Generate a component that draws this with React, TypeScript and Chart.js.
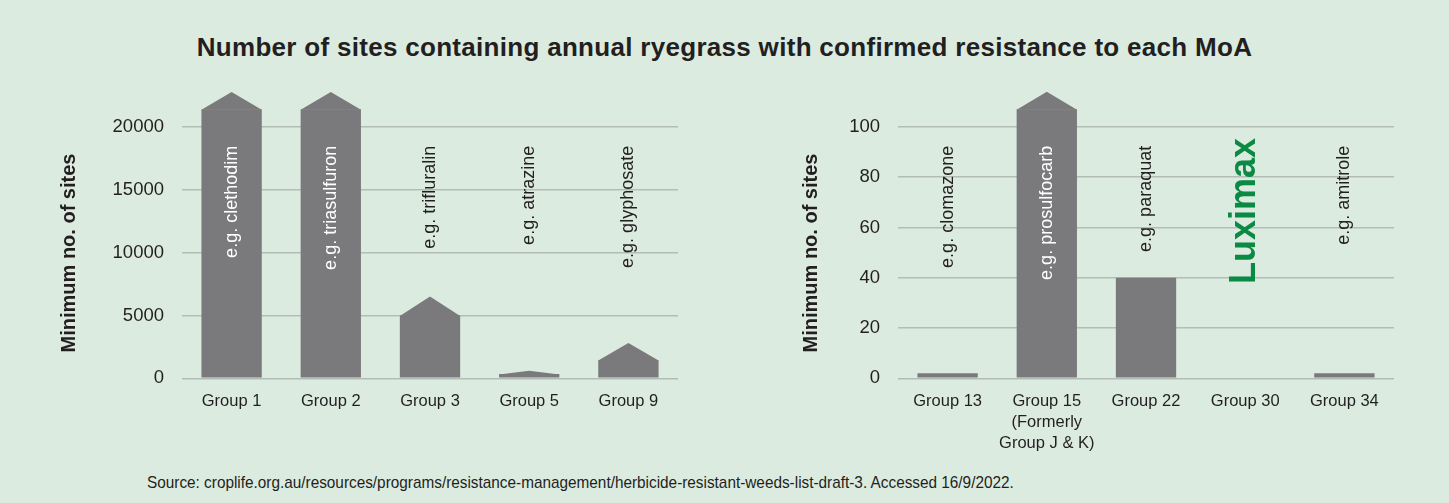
import React, { useEffect, useRef } from 'react';
import { Chart, registerables } from 'chart.js';

Chart.register(...registerables);

// ---------- data ----------
const leftCategories = ['Group 1', 'Group 2', 'Group 3', 'Group 5', 'Group 9'];
const leftBodyValues = [21400, 21400, 5000, 350, 1450];
const leftTipValues = [22780, 22780, 6500, 600, 2800];
const leftNotes = ['e.g. clethodim', 'e.g. triasulfuron', 'e.g. trifluralin', 'e.g. atrazine', 'e.g. glyphosate'];
const leftTickValues = [0, 5000, 10000, 15000, 20000];

const rightCategories = ['Group 13', ['Group 15', '(Formerly', 'Group J & K)'], 'Group 22', 'Group 30', 'Group 34'];
const rightBodyValues = [2, 107, 40, 0, 2];
const rightTipValues = [2, 114, 40, 0, 2];
const rightNotes = ['e.g. clomazone', 'e.g. prosulfocarb', 'e.g. paraquat', 'Luximax', 'e.g. amitrole'];
const rightTickValues = [0, 20, 40, 60, 80, 100];

const titleText = 'Number of sites containing annual ryegrass with confirmed resistance to each MoA';
const yAxisTitle = 'Minimum no. of sites';
const sourceText = 'Source: croplife.org.au/resources/programs/resistance-management/herbicide-resistant-weeds-list-draft-3. Accessed 16/9/2022.';
const highlightNote = 'Luximax';

// ---------- styles ----------
const BG = '#dcebe0';
const BAR = '#7a7a7c';
const TEXT = '#231f20';
const GRID = '#b3bcb6';
const GREEN = '#0b8a43';
const SANS = '"Liberation Sans", Arial, sans-serif';

const arrowTipsPlugin = {
  id: 'arrowTips',
  afterDatasetsDraw(chart: any, _args: any, opts: any) {
    const meta = chart.getDatasetMeta(0);
    const y = chart.scales.y;
    const ctx = chart.ctx;
    ctx.save();
    ctx.fillStyle = BAR;
    (opts.tips as number[]).forEach((tip, i) => {
      const body = opts.body[i];
      if (!(tip > body)) return;
      const bar = meta.data[i];
      const half = bar.width / 2;
      const yb = y.getPixelForValue(body);
      const yt = y.getPixelForValue(tip);
      ctx.beginPath();
      ctx.moveTo(bar.x - half, yb + 0.5);
      ctx.lineTo(bar.x, yt);
      ctx.lineTo(bar.x + half, yb + 0.5);
      ctx.closePath();
      ctx.fill();
    });
    ctx.restore();
  },
};

const notesPlugin = {
  id: 'notes',
  afterDatasetsDraw(chart: any, _args: any, opts: any) {
    const meta = chart.getDatasetMeta(0);
    const y = chart.scales.y;
    const ctx = chart.ctx;
    ctx.save();
    (opts.notes as string[]).forEach((note, i) => {
      const bar = meta.data[i];
      const isHighlight = note === highlightNote;
      const endY = y.getPixelForValue(isHighlight ? opts.highlightAnchor : opts.anchor);
      ctx.font = isHighlight ? `bold 36px ${SANS}` : `18px ${SANS}`;
      const w = ctx.measureText(note).width;
      const startY = endY + w;
      const bodyTop = y.getPixelForValue(opts.body[i]);
      let color = TEXT;
      if (isHighlight) color = GREEN;
      else if (bodyTop < startY) color = '#ffffff';
      ctx.fillStyle = color;
      ctx.translate(bar.x, endY);
      ctx.rotate(-Math.PI / 2);
      ctx.textAlign = 'right';
      ctx.textBaseline = 'middle';
      ctx.fillText(note, 0, 0);
      ctx.setTransform(1, 0, 0, 1, 0, 0);
    });
    ctx.restore();
  },
};

const yTitlePlugin = {
  id: 'yTitle',
  afterDraw(chart: any, _args: any, opts: any) {
    const ctx = chart.ctx;
    const area = chart.chartArea;
    ctx.save();
    ctx.font = `bold 20px ${SANS}`;
    ctx.fillStyle = TEXT;
    ctx.translate(area.left - opts.offsetX, (area.top + area.bottom) / 2 + opts.shiftY);
    ctx.rotate(-Math.PI / 2);
    ctx.textAlign = 'center';
    ctx.textBaseline = 'middle';
    ctx.fillText(opts.text, 0, 0);
    ctx.restore();
  },
};

type PanelProps = {
  categories: any[];
  body: number[];
  tips: number[];
  notes: string[];
  tickValues: number[];
  max: number;
  yAxisWidth: number;
  padRight: number;
  anchor: number;
  highlightAnchor: number;
  titleOffsetX: number;
  width: number;
  height: number;
};

function Panel(p: PanelProps) {
  const ref = useRef<HTMLCanvasElement | null>(null);
  useEffect(() => {
    if (!ref.current) return;
    const chart = new Chart(ref.current, {
      type: 'bar',
      data: {
        labels: p.categories,
        datasets: [
          {
            data: p.body,
            backgroundColor: BAR,
            borderWidth: 0,
            barPercentage: 0.608,
            categoryPercentage: 1,
          },
        ],
      },
      options: {
        responsive: false,
        animation: false,
        devicePixelRatio: 1,
        layout: { padding: { top: 36.7, right: p.padRight, bottom: 0, left: 0 } },
        plugins: {
          legend: { display: false },
          tooltip: { enabled: false },
          title: { display: false },
          arrowTips: { tips: p.tips, body: p.body },
          notes: { notes: p.notes, body: p.body, anchor: p.anchor, highlightAnchor: p.highlightAnchor },
          yTitle: { text: yAxisTitle, offsetX: p.titleOffsetX, shiftY: 25.5 },
        } as any,
        scales: {
          x: {
            grid: { display: false, drawTicks: false },
            border: { display: false },
            ticks: {
              color: TEXT,
              font: { family: SANS, size: 16.5, lineHeight: 1.3 },
              padding: 12,
              maxRotation: 0,
              autoSkip: false,
            },
            afterFit(scale: any) {
              scale.height = 81.7;
            },
          },
          y: {
            min: 0,
            max: p.max,
            grid: { color: GRID, lineWidth: 1.5, drawTicks: false },
            border: { display: false },
            ticks: {
              color: TEXT,
              font: { family: SANS, size: 18.5 },
              padding: 18,
              callback: (v: any) => String(v),
            },
            afterBuildTicks(scale: any) {
              scale.ticks = p.tickValues.map((v) => ({ value: v }));
            },
            afterFit(scale: any) {
              scale.width = p.yAxisWidth;
            },
          },
        },
      },
      plugins: [arrowTipsPlugin, notesPlugin, yTitlePlugin],
    });
    return () => chart.destroy();
  }, []);
  return <canvas ref={ref} width={p.width} height={p.height} style={{ display: 'block', width: p.width, height: p.height }} />;
}

export default function App() {
  return (
    <div style={{ position: 'absolute', left: 0, top: 0, width: 1449, height: 503, background: BG, overflow: 'hidden' }}>
      <div
        style={{
          position: 'absolute',
          left: 0,
          top: 32,
          width: 1449,
          textAlign: 'center',
          font: `bold 26px ${SANS}`,
          letterSpacing: '0.3px',
          color: TEXT,
          lineHeight: '30px',
          whiteSpace: 'nowrap',
        }}
      >
        {titleText}
      </div>
      <div style={{ position: 'absolute', left: 40, top: 40 }}>
        <Panel
          categories={leftCategories}
          body={leftBodyValues}
          tips={leftTipValues}
          notes={leftNotes}
          tickValues={leftTickValues}
          max={24000}
          yAxisWidth={142}
          padRight={22}
          anchor={18500}
          highlightAnchor={18500}
          titleOffsetX={113}
          width={660}
          height={420}
        />
      </div>
      <div style={{ position: 'absolute', left: 740, top: 40 }}>
        <Panel
          categories={rightCategories}
          body={rightBodyValues}
          tips={rightTipValues}
          notes={rightNotes}
          tickValues={rightTickValues}
          max={120}
          yAxisWidth={158}
          padRight={26}
          anchor={92.5}
          highlightAnchor={95.6}
          titleOffsetX={87}
          width={680}
          height={420}
        />
      </div>
      <div
        style={{
          position: 'absolute',
          left: 147,
          top: 472,
          font: `17px ${SANS}`,
          color: TEXT,
          whiteSpace: 'nowrap',
          lineHeight: '22px',
          transform: 'scaleX(0.902)',
          transformOrigin: '0 0',
        }}
      >
        {sourceText}
      </div>
    </div>
  );
}
